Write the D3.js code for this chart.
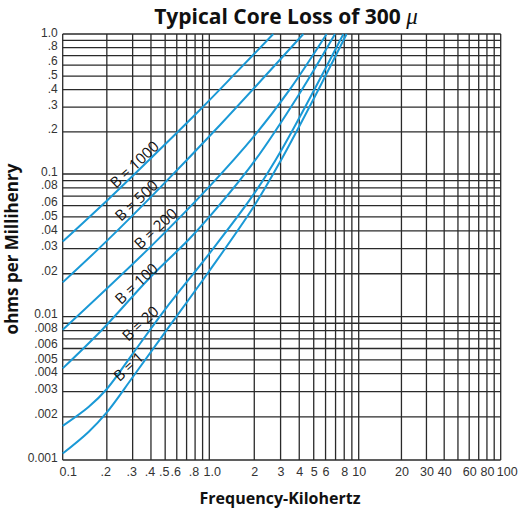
<!DOCTYPE html>
<html><head><meta charset="utf-8">
<script src="https://cdn.jsdelivr.net/npm/d3@7"></script>
<style>body{margin:0;background:#fff}</style>
</head><body>
<svg id="chart" width="518" height="514"></svg>
<script>
// ---- data ----
const seriesNames = ["B = 1000", "B = 500", "B = 200", "B = 100", "B = 20", "B = 1"];
const freqB1000 = [0.1, 0.2, 0.296, 0.865, 1.5, 2.68];
const lossB1000 = [0.0336, 0.065, 0.0957, 0.288, 0.525, 1.0];
const freqB500 = [0.1, 0.2, 0.46, 1.18, 4.26];
const lossB500 = [0.0174, 0.034, 0.080, 0.224, 1.0];
const freqB200 = [0.1, 0.4, 1.0, 2.0, 3.5, 6.1];
const lossB200 = [0.0081, 0.0311, 0.0815, 0.187, 0.409, 1.0];
const freqB100 = [0.1, 0.185, 0.39, 0.719, 1.0, 2.0, 4.0, 6.94];
const lossB100 = [0.00436, 0.00808, 0.0186, 0.0345, 0.05, 0.123, 0.373, 1.0];
const freqB20 = [0.1, 0.15, 0.2, 0.3, 0.5, 1.0, 2.0, 3.07, 7.9];
const lossB20 = [0.00173, 0.00234, 0.00313, 0.00551, 0.01127, 0.0277, 0.0731, 0.151, 1.0];
const freqB1 = [0.1, 0.15, 0.2, 0.3, 0.5, 1.0, 2.0, 3.0, 5.0, 8.3];
const lossB1 = [0.00111, 0.00157, 0.00215, 0.00378, 0.00781, 0.0209, 0.0599, 0.124, 0.345, 1.0];
// label centre points (frequency, loss) for each series
const labelFreq = [0.306, 0.316, 0.427, 0.316, 0.336, 0.279];
const labelLoss = [0.118, 0.0657, 0.0418, 0.0172, 0.00904, 0.00453];

const xTickValues = [0.1, 0.2, 0.3, 0.4, 0.5, 0.6, 0.8, 1, 2, 3, 4, 5, 6, 8, 10, 20, 30, 40, 60, 80, 100];
const xTickLabels = ["0.1", ".2", ".3", ".4", ".5", ".6", ".8", "1.0", "2", "3", "4", "5", "6", "8", "10", "20", "30", "40", "60", "80", "100"];
const yTickValues = [1, 0.8, 0.6, 0.5, 0.4, 0.3, 0.2, 0.1, 0.08, 0.06, 0.05, 0.04, 0.03, 0.02, 0.01, 0.008, 0.006, 0.005, 0.004, 0.003, 0.002, 0.001];
const yTickLabels = ["1.0", ".8", ".6", ".5", ".4", ".3", ".2", "0.1", ".08", ".06", ".05", ".04", ".03", ".02", "0.01", ".008", ".006", ".005", ".004", ".003", ".002", "0.001"];

const titleText = "Typical Core Loss of 300 ";
const titleSymbol = "\u03BC";
const xTitle = "Frequency-Kilohertz";
const yTitle = "ohms per Millihenry";

// ---- chart ----
const svg = d3.select("#chart");
const x = d3.scaleLog().domain([0.1, 1, 10, 100]).range([62.7, 209.3, 358.7, 500.7]);
const y = d3.scaleLog().domain([0.001, 0.01, 0.1, 1]).range([460, 316.7, 174, 34]);

const gridColor = "#2a2a2a";
const curveColor = "#1a99d6";
const tickFont = "Liberation Sans, Arial, sans-serif";
const mainFont = "Open Sans, sans-serif";
const yTickSize = 12;
const leadDigit = d => Math.round(d / Math.pow(10, Math.floor(Math.log10(d) + 1e-9)));

// grid
const gx = x.ticks();
const gy = y.ticks();
const grid = svg.append("g");
grid.selectAll("line.v").data(gx).join("line")
  .attr("x1", d => x(d)).attr("x2", d => x(d))
  .attr("y1", y(1)).attr("y2", y(0.001))
  .attr("stroke", gridColor).attr("stroke-width", 1.3);
grid.selectAll("line.h").data(gy).join("line")
  .attr("y1", d => y(d)).attr("y2", d => y(d))
  .attr("x1", x(0.1)).attr("x2", x(100))
  .attr("stroke", gridColor).attr("stroke-width", 1.3);

// curves
const seriesData = [
  [freqB1000, lossB1000], [freqB500, lossB500], [freqB200, lossB200],
  [freqB100, lossB100], [freqB20, lossB20], [freqB1, lossB1]
].map(([f, v]) => f.map((d, i) => ({ f: d, v: v[i] })));

const line = d3.line().x(d => x(d.f)).y(d => y(d.v)).curve(d3.curveCatmullRom.alpha(0.5));
svg.append("g").selectAll("path").data(seriesData).join("path")
  .attr("d", line).attr("fill", "none")
  .attr("stroke", curveColor).attr("stroke-width", 2);

// curve labels
svg.append("g").selectAll("text").data(seriesNames).join("text")
  .attr("transform", (d, i) => `translate(${x(labelFreq[i])},${y(labelLoss[i])}) rotate(-43)`)
  .attr("text-anchor", "middle").attr("dominant-baseline", "central")
  .attr("font-family", mainFont).attr("font-size", 15)
  .attr("fill", "#111")
  .text(d => d);

// x axis labels
const xAxis = d3.axisBottom(x).tickValues(xTickValues)
  .tickFormat((d, i) => xTickLabels[i]).tickSize(0).tickPadding(7);
const gxa = svg.append("g").attr("transform", `translate(0,${y(0.001)})`).call(xAxis);
gxa.select(".domain").remove();
gxa.selectAll("text").attr("font-family", tickFont).attr("font-size", 12.5).attr("fill", "#333")
  .attr("dx", (d, i) => {
    const s = xTickLabels[i];
    if (i === 0) return 5;
    if (i === xTickValues.length - 1) return 6;
    if (s === "1.0") return 2.5;
    if (s[0] === ".") return -1.5;
    return 0;
  });

// y axis labels: baseline just under each line, nudged apart where the log grid crowds
const baselines = yTickValues.map((d, i) => {
  if (i === 0) return y(d) + 2.4;
  const k = leadDigit(d);
  return y(d) + (k === 6 ? -0.5 : k === 5 ? 2.5 : 1);
});
const minGap = yTickSize * 1.13;
for (let i = 1; i < baselines.length; i++) {
  if (baselines[i] - baselines[i - 1] < minGap) baselines[i] = baselines[i - 1] + minGap;
}
const yAxis = d3.axisLeft(y).tickValues(yTickValues)
  .tickFormat((d, i) => yTickLabels[i]).tickSize(0).tickPadding(5);
const gya = svg.append("g").attr("transform", `translate(${x(0.1)},0)`).call(yAxis);
gya.select(".domain").remove();
gya.selectAll("text").attr("font-family", tickFont).attr("font-size", yTickSize).attr("fill", "#333")
  .attr("dy", (d, i) => (baselines[i] - y(d)) + "px");

// titles
const t = svg.append("text").attr("x", 286).attr("y", 24).attr("text-anchor", "middle")
  .attr("font-family", mainFont).attr("font-weight", "bold").attr("font-size", 21).attr("fill", "#111");
t.append("tspan").text(titleText);
t.append("tspan").attr("font-family", "Liberation Serif, serif").attr("font-style", "italic").attr("font-weight", "normal").attr("font-size", 23).text(titleSymbol);

svg.append("text").attr("x", 280).attr("y", 504).attr("text-anchor", "middle")
  .attr("font-family", mainFont).attr("font-weight", "bold").attr("font-size", 16).attr("fill", "#111")
  .text(xTitle);
svg.append("text").attr("transform", "translate(18,249) rotate(-90)").attr("text-anchor", "middle")
  .attr("font-family", mainFont).attr("font-weight", "bold").attr("font-size", 17).attr("fill", "#111")
  .text(yTitle);
</script>
</body></html>
